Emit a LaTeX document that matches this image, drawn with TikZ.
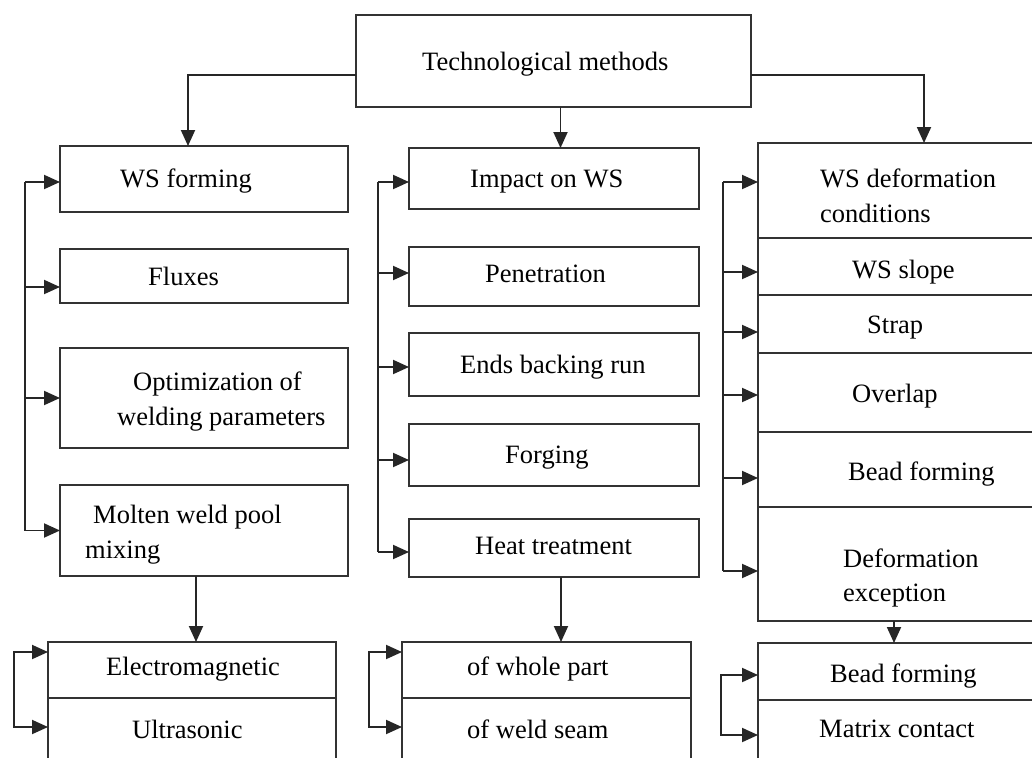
\documentclass[tikz,border=0pt]{standalone}
\usepackage{fontspec}
\setmainfont{Liberation Serif}
\usetikzlibrary{arrows.meta,fit}
\begin{document}
\begin{tikzpicture}[x=1pt,y=-1pt,
  box/.style={draw=black!80, line width=1.9pt, inner sep=0pt, outer sep=0pt, rectangle},
  txt/.style={anchor=base west, inner sep=0pt, font=\fontsize{26.5}{32}\selectfont, text=black},
  ln/.style={draw=black!85, line width=1.9pt},
  arr/.style={ln, -{Triangle[length=16pt,width=14pt]}},
  darr/.style={ln, {Triangle[length=16pt,width=14pt]}-{Triangle[length=16pt,width=14pt]}}]
\useasboundingbox (0,0) rectangle (1032,757);
\fill[white] (0,0) rectangle (1032,757);
\clip (0,0) rectangle (1032,757);

% top box
\node[box, fit={(356,15) (751,107)}] (top) {};
\node[txt] (ttop) at (422,71) {Technological methods};

% left column
\node[box, fit={(60,146) (348,212)}] (ws) {};
\node[box, fit={(60,249) (348,303)}] (flx) {};
\node[box, fit={(60,348) (348,448)}] (opt) {};
\node[box, fit={(60,485) (348,576)}] (mol) {};
\node[txt] (tws) at (120,187) {WS forming};
\node[txt] (tflx) at (148,285) {Fluxes};
\node[txt] (topt1) at (133,390) {Optimization of};
\node[txt] (topt2) at (117,425) {welding parameters};
\node[txt] (tmol1) at (93,523) {Molten weld pool};
\node[txt] (tmol2) at (85,558) {mixing};

\node[box, fit={(48,642) (336,698)}] (em) {};
\node[box, fit={(48,698) (336,790)}] (us) {};
\node[txt] (tem) at (106,675) {Electromagnetic};
\node[txt] (tus) at (132,738) {Ultrasonic};

% middle column
\node[box, fit={(409,148) (699,209)}] (imp) {};
\node[box, fit={(409,247) (699,306)}] (pen) {};
\node[box, fit={(409,333) (699,396)}] (ends) {};
\node[box, fit={(409,424) (699,486)}] (forg) {};
\node[box, fit={(409,519) (699,577)}] (heat) {};
\node[txt] (timp) at (470,187) {Impact on WS};
\node[txt] (tpen) at (485,282) {Penetration};
\node[txt] (tends) at (460,373) {Ends backing run};
\node[txt] (tforg) at (505,463) {Forging};
\node[txt] (theat) at (475,554) {Heat treatment};

\node[box, fit={(402,642) (691,698)}] (wp) {};
\node[box, fit={(402,698) (691,790)}] (wseam) {};
\node[txt] (twp) at (467,675) {of whole part};
\node[txt] (twseam) at (467,738) {of weld seam};

% right column
\node[box, fit={(758,143) (1060,238)}] (rc1) {};
\node[box, fit={(758,238) (1060,295)}] (rc2) {};
\node[box, fit={(758,295) (1060,353)}] (rc3) {};
\node[box, fit={(758,353) (1060,432)}] (rc4) {};
\node[box, fit={(758,432) (1060,507)}] (rc5) {};
\node[box, fit={(758,507) (1060,621)}] (rc6) {};
\node[txt] (trc1a) at (820,187) {WS deformation};
\node[txt] (trc1b) at (820,222) {conditions};
\node[txt] (trc2) at (852,278) {WS slope};
\node[txt] (trc3) at (867,333) {Strap};
\node[txt] (trc4) at (852,402) {Overlap};
\node[txt] (trc5) at (848,480) {Bead forming};
\node[txt] (trc6a) at (843,567) {Deformation};
\node[txt] (trc6b) at (843,601) {exception};

\node[box, fit={(758,643) (1060,700)}] (bf) {};
\node[box, fit={(758,700) (1060,790)}] (mc) {};
\node[txt] (tbf) at (830,682) {Bead forming};
\node[txt] (tmc) at (819,737) {Matrix contact};

% connectors from top box
\draw[arr] ([yshift=-14pt]top.west) -| ([xshift=-16pt]ws.north);
\draw[arr] ([xshift=7pt]top.south) -- ([xshift=7pt]top.south |- imp.north);
\draw[arr] ([yshift=-14pt]top.east) -| ([xshift=15pt]rc1.north);

% left bus
\draw[ln] ([xshift=-35pt,yshift=-3pt]ws.west) -- ([xshift=-35pt]mol.west);
\draw[arr] ([xshift=-35pt,yshift=-3pt]ws.west) -- ([yshift=-3pt]ws.west);
\draw[arr] ([xshift=-35pt,yshift=-11pt]flx.west) -- ([yshift=-11pt]flx.west);
\draw[arr] ([xshift=-35pt]opt.west) -- (opt.west);
\draw[arr] ([xshift=-35pt]mol.west) -- (mol.west);
\draw[arr] ([xshift=-8pt]mol.south) -- ([xshift=-8pt]mol.south |- em.north);
\draw[darr] ([yshift=18pt]em.west) -- ([xshift=-34pt,yshift=18pt]em.west) |- ([yshift=17pt]us.west);

% middle bus
\draw[ln] ([xshift=-31pt,yshift=-3.5pt]imp.west) -- ([xshift=-31pt,yshift=-4pt]heat.west);
\draw[arr] ([xshift=-31pt,yshift=-3.5pt]imp.west) -- ([yshift=-3.5pt]imp.west);
\draw[arr] ([xshift=-31pt,yshift=3.5pt]pen.west) -- ([yshift=3.5pt]pen.west);
\draw[arr] ([xshift=-31pt,yshift=-2.5pt]ends.west) -- ([yshift=-2.5pt]ends.west);
\draw[arr] ([xshift=-31pt,yshift=-5pt]forg.west) -- ([yshift=-5pt]forg.west);
\draw[arr] ([xshift=-31pt,yshift=-4pt]heat.west) -- ([yshift=-4pt]heat.west);
\draw[arr] ([xshift=7pt]heat.south) -- ([xshift=7pt]heat.south |- wp.north);
\draw[darr] ([yshift=18pt]wp.west) -- ([xshift=-33pt,yshift=18pt]wp.west) |- ([yshift=17pt]wseam.west);

% right bus
\draw[ln] ([xshift=-35pt,yshift=8.5pt]rc1.west) -- ([xshift=-35pt,yshift=-7pt]rc6.west);
\draw[arr] ([xshift=-35pt,yshift=8.5pt]rc1.west) -- ([yshift=8.5pt]rc1.west);
\draw[arr] ([xshift=-35pt,yshift=-5.5pt]rc2.west) -- ([yshift=-5.5pt]rc2.west);
\draw[arr] ([xshift=-35pt,yshift=-8pt]rc3.west) -- ([yshift=-8pt]rc3.west);
\draw[arr] ([xshift=-35pt,yshift=-2.5pt]rc4.west) -- ([yshift=-2.5pt]rc4.west);
\draw[arr] ([xshift=-35pt,yshift=-8.5pt]rc5.west) -- ([yshift=-8.5pt]rc5.west);
\draw[arr] ([xshift=-35pt,yshift=-7pt]rc6.west) -- ([yshift=-7pt]rc6.west);
\draw[arr] ([xshift=-15pt]rc6.south) -- ([xshift=-15pt]rc6.south |- bf.north);
\draw[darr] ([yshift=-3.5pt]bf.west) -- ([xshift=-37pt,yshift=-3.5pt]bf.west) |- ([yshift=10pt]mc.west);
\end{tikzpicture}
\end{document}
